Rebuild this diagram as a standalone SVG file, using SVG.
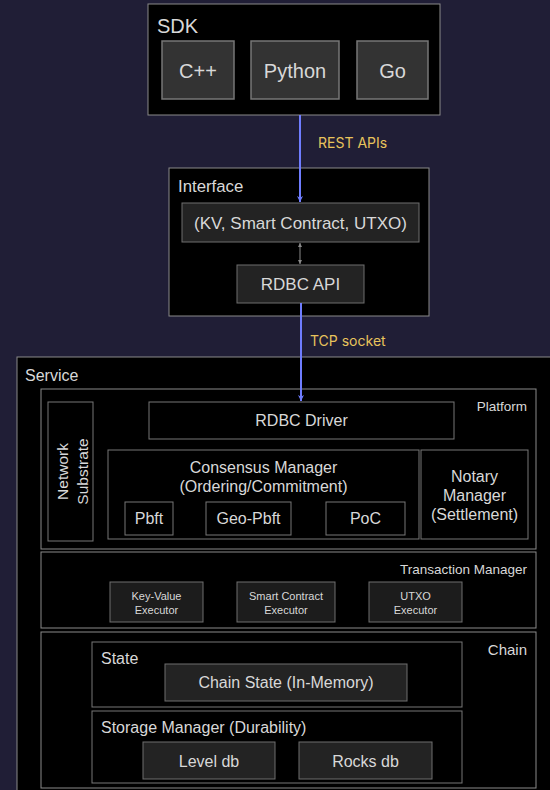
<svg xmlns="http://www.w3.org/2000/svg" width="550" height="790" viewBox="0 0 550 790">
<defs>
<style>
text{font-family:"Liberation Sans",Arial,sans-serif;fill:#d8d8d8}
.lbl{font-family:Inter,"Liberation Sans",sans-serif;fill:#e8c45c;font-size:14px}
.c{text-anchor:middle}
.r{text-anchor:end}
.outer{fill:#000;stroke:#8a8a8a;stroke-width:1}
.grp{fill:#000;stroke:#8a8a8a;stroke-width:1}
.box{fill:#000;stroke:#777;stroke-width:1}
.sdk{fill:#333;stroke:#777;stroke-width:1.5}
.dark{fill:#1c1c1c;stroke:#6f6f6f;stroke-width:1}
.mid{fill:#232323;stroke:#6f6f6f;stroke-width:1}
.conn{stroke:#6f7dff;stroke-width:2;fill:none}
.thin{stroke:#8a8a8a;stroke-width:1;fill:none}
</style>
<marker id="ab" viewBox="0 0 10 10" refX="10" refY="5" markerWidth="6" markerHeight="8" orient="auto" markerUnits="userSpaceOnUse">
<path d="M0,0 L10,5 L0,10 L3,5 Z" fill="#6f7dff"/>
</marker>
<marker id="ag" viewBox="0 0 10 10" refX="10" refY="5" markerWidth="4" markerHeight="4" orient="auto-start-reverse" markerUnits="userSpaceOnUse">
<path d="M0,0 L10,5 L0,10 Z" fill="#8a8a8a"/>
</marker>
</defs>
<rect width="550" height="790" fill="#201e36"/>

<g id="sdk">
<rect class="outer" x="148" y="4" width="292" height="111"/>
<text x="157" y="33" font-size="20">SDK</text>
</g>
<g id="sdk-cpp">
<rect class="sdk" x="162" y="41" width="72" height="58"/>
<text class="c" x="198" y="78" font-size="20">C++</text>
</g>
<g id="sdk-python">
<rect class="sdk" x="251" y="41" width="88" height="58"/>
<text class="c" x="295" y="78" font-size="20">Python</text>
</g>
<g id="sdk-go">
<rect class="sdk" x="357" y="41" width="71" height="58"/>
<text class="c" x="392.5" y="78" font-size="20">Go</text>
</g>

<g id="interface">
<rect class="outer" x="169" y="168" width="260" height="148"/>
<text x="178" y="192" font-size="16.8">Interface</text>
</g>
<g id="interface-types">
<rect class="mid" x="182" y="203" width="237" height="39"/>
<text class="c" x="300.5" y="229" font-size="17">(KV, Smart Contract, UTXO)</text>
</g>
<g id="rdbc-api">
<rect class="mid" x="237" y="265" width="127" height="38"/>
<text class="c" x="300.5" y="290" font-size="17">RDBC API</text>
</g>

<g id="service">
<rect class="outer" x="17" y="357" width="545" height="445"/>
<text x="25" y="381" font-size="16">Service</text>
</g>

<g id="platform">
<rect class="grp" x="41" y="389" width="495" height="160"/>
<text class="r" x="527" y="411" font-size="13.5">Platform</text>
</g>
<g id="network-substrate">
<rect class="box" x="48" y="402" width="45" height="139"/>
<text class="c" transform="translate(68,471.5) rotate(-90)" font-size="15.5">Network</text>
<text class="c" transform="translate(88,471.5) rotate(-90)" font-size="15.5">Substrate</text>
</g>
<g id="rdbc-driver">
<rect class="box" x="149" y="402" width="305" height="37"/>
<text class="c" x="301.5" y="426" font-size="16">RDBC Driver</text>
</g>
<g id="consensus-manager">
<rect class="box" x="108" y="450" width="311" height="89"/>
<text class="c" x="263.5" y="473" font-size="16">Consensus Manager</text>
<text class="c" x="263.5" y="492" font-size="16">(Ordering/Commitment)</text>
</g>
<g id="pbft">
<rect class="box" x="125" y="502" width="48" height="33"/>
<text class="c" x="149" y="524" font-size="16">Pbft</text>
</g>
<g id="geo-pbft">
<rect class="box" x="206" y="502" width="85" height="33"/>
<text class="c" x="248.5" y="524" font-size="16">Geo-Pbft</text>
</g>
<g id="poc">
<rect class="box" x="326" y="502" width="79" height="33"/>
<text class="c" x="365.5" y="524" font-size="16">PoC</text>
</g>
<g id="notary-manager">
<rect class="box" x="421" y="450" width="107" height="89"/>
<text class="c" x="474.5" y="482" font-size="16">Notary</text>
<text class="c" x="474.5" y="501" font-size="16">Manager</text>
<text class="c" x="474.5" y="520" font-size="16">(Settlement)</text>
</g>

<g id="transaction-manager">
<rect class="grp" x="41" y="552" width="495" height="76"/>
<text class="r" x="527" y="574" font-size="13.5">Transaction Manager</text>
</g>
<g id="kv-executor">
<rect class="dark" x="110" y="582" width="93" height="40"/>
<text class="c" x="156.5" y="600" font-size="11">Key-Value</text>
<text class="c" x="156.5" y="613.5" font-size="11">Executor</text>
</g>
<g id="sc-executor">
<rect class="dark" x="237" y="582" width="98" height="40"/>
<text class="c" x="286" y="600" font-size="11">Smart Contract</text>
<text class="c" x="286" y="613.5" font-size="11">Executor</text>
</g>
<g id="utxo-executor">
<rect class="dark" x="369" y="582" width="93" height="40"/>
<text class="c" x="415.5" y="600" font-size="11">UTXO</text>
<text class="c" x="415.5" y="613.5" font-size="11">Executor</text>
</g>

<g id="chain">
<rect class="grp" x="41" y="632" width="495" height="156"/>
<text class="r" x="527" y="655" font-size="15">Chain</text>
</g>
<g id="state">
<rect class="box" x="92" y="642" width="370" height="65"/>
<text x="101" y="664" font-size="16">State</text>
</g>
<g id="chain-state">
<rect class="mid" x="165" y="664" width="242" height="37"/>
<text class="c" x="286" y="688" font-size="16">Chain State (In-Memory)</text>
</g>
<g id="storage-manager">
<rect class="box" x="92" y="711" width="370" height="72"/>
<text x="101" y="733" font-size="16">Storage Manager (Durability)</text>
</g>
<g id="level-db">
<rect class="mid" x="143" y="742" width="132" height="37"/>
<text class="c" x="209" y="767" font-size="16">Level db</text>
</g>
<g id="rocks-db">
<rect class="mid" x="299" y="742" width="133" height="37"/>
<text class="c" x="365.5" y="767" font-size="16">Rocks db</text>
</g>

<g id="connectors">
<line class="conn" x1="300" y1="115" x2="300" y2="202" marker-end="url(#ab)"/>
<text class="lbl" x="318" y="148">REST APIs</text>
<line class="thin" x1="300" y1="243" x2="300" y2="264" marker-start="url(#ag)" marker-end="url(#ag)"/>
<line class="conn" x1="301" y1="303" x2="301" y2="401" marker-end="url(#ab)"/>
<text class="lbl" x="310" y="346">TCP socket</text>
</g>
</svg>
